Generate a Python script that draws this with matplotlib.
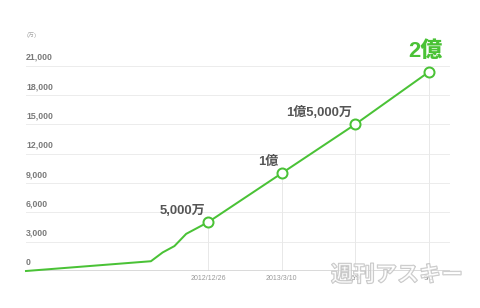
import matplotlib
matplotlib.use("Agg")
import matplotlib.pyplot as plt
import matplotlib.patheffects as pe

# ---- data ----
# x: position in units of tick interval, 0 = 2012/12/26
x_pos = [-2.48, -0.78, -0.62, -0.46, -0.30, 0, 1, 2, 3]
users = [0, 1000, 1900, 2550, 3800, 5000, 10000, 15000, 20350]   # 万人
milestone_idx = [5, 6, 7, 8]
milestone_labels = ["5,000万", "1億", "1億5,000万", "2億"]
tick_pos = [0, 1, 2, 3]
tick_labels = ["2012/12/26", "2013/3/10", "6/9", "9/5"]
y_ticks = [0, 3000, 6000, 9000, 12000, 15000, 18000, 21000]
y_tick_labels = ["0", "3,000", "6,000", "9,000", "12,000", "15,000", "18,000", "21,000"]

GREEN = "#4ac236"
FONT = ["Liberation Sans", "Noto Sans CJK JP", "DejaVu Sans"]
plt.rcParams["font.family"] = FONT

W, H = 480, 308
fig = plt.figure(figsize=(W / 72, H / 72), dpi=72)
ax = fig.add_axes([26 / W, 37 / H, 424 / W, 205.3 / H])
ax.set_xlim(-2.48, 3.29)
ax.set_ylim(0, 21000)
for s in ax.spines.values():
    s.set_visible(False)
ax.set_xticks([])
ax.set_yticks([])

# horizontal gridlines and labels
for v, lab in zip(y_ticks, y_tick_labels):
    if v > 0:
        ax.axhline(v, color="#ececec", lw=1, zorder=1)
    ax.annotate(lab, (0, v), xycoords=("axes fraction", "data"),
                xytext=(0, 4), textcoords="offset points",
                ha="left", va="bottom", fontsize=8.8, fontweight="bold",
                color="#7a7a7a")
ax.annotate("(万)", (0, 1), xycoords="axes fraction", xytext=(1, 28),
            textcoords="offset points", ha="left", va="bottom",
            fontsize=6, color="#aaaaaa")

# base axis line
ax.axhline(0, color="#cfcfcf", lw=2.5, zorder=2)

# drop lines at milestones
for i in milestone_idx:
    ax.plot([x_pos[i], x_pos[i]], [0, users[i]], color="#e8e8e8", lw=1, zorder=1)

# x tick labels
for p, lab in zip(tick_pos, tick_labels):
    ax.annotate(lab, (p, 0), xycoords="data", xytext=(0, -4),
                textcoords="offset points", ha="center", va="top",
                fontsize=7, color="#999999")

# main line
ax.plot(x_pos, users, color=GREEN, lw=2, zorder=3, solid_joinstyle="round",
        clip_on=False)
ax.plot([x_pos[i] for i in milestone_idx], [users[i] for i in milestone_idx],
        ls="none", marker="o", ms=10, mfc="white", mec=GREEN, mew=2,
        zorder=4, clip_on=False)

# milestone annotations
for k, (i, lab) in enumerate(zip(milestone_idx, milestone_labels)):
    if k < 3:
        ax.annotate(lab, (x_pos[i], users[i]), xytext=(-3, 8),
                    textcoords="offset points", ha="right", va="baseline",
                    fontsize=13, fontweight="bold", color="#555555")
    else:
        ax.annotate(lab, (x_pos[i], users[i]), xytext=(-3, 15),
                    textcoords="offset points", ha="center", va="baseline",
                    fontsize=22, fontweight="heavy", color=GREEN)

# watermark
fig.text(397 / W, 1 - 275 / H, "週刊アスキー", ha="center", va="center",
         fontsize=22, fontweight="bold", color=(1, 1, 1, 0.35),
         family=["Noto Sans CJK JP"],
         path_effects=[pe.Stroke(linewidth=1.3, foreground="#c4c4c4"),
                       pe.Normal()], zorder=10)

fig.savefig("out.png", dpi=72, facecolor="white")
